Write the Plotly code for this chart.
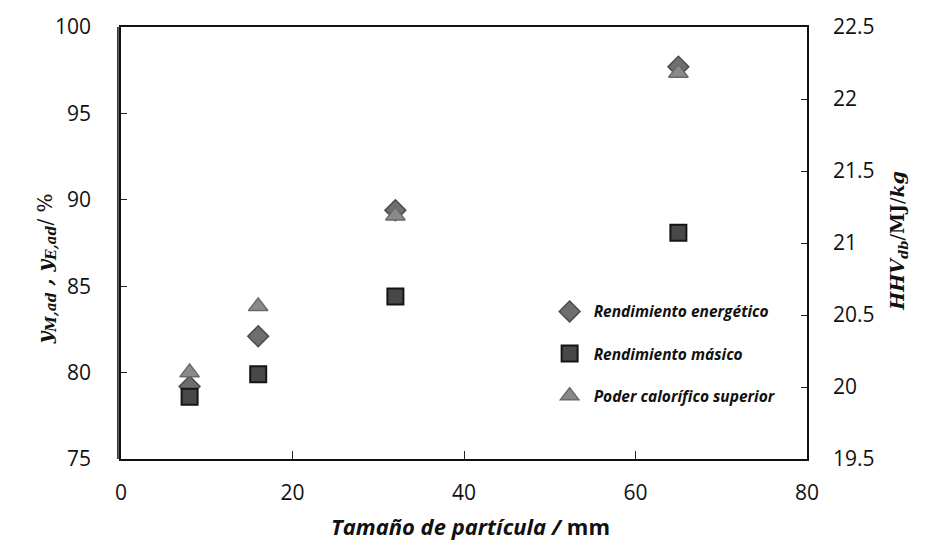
import plotly.graph_objects as go

# Particle size (mm)
particle_size = [8, 16, 32, 65]

# Energy yield and mass yield (%), left axis
energy_yield = [79.2, 82.1, 89.4, 97.7]
mass_yield = [78.6, 79.9, 84.4, 88.1]

# Higher heating value (MJ/kg), right axis
hhv = [20.10, 20.56, 21.19, 22.18]

x_ticks = [0, 20, 40, 60, 80]
left_ticks = [75, 80, 85, 90, 95, 100]
right_ticks = [19.5, 20, 20.5, 21, 21.5, 22, 22.5]

tick_font = dict(family="Open Sans", size=21, color="#111111")
legend_font = dict(family="Open Sans", size=15.5, color="#111111", style="italic", weight="bold")

fig = go.Figure()

fig.add_trace(go.Scatter(
    x=particle_size, y=energy_yield, mode="markers",
    name="Rendimiento energético", legendgroup="a",
    marker=dict(symbol="diamond", size=16, color="#6e6e6e",
                line=dict(color="#4a4a4a", width=1.5)),
))
fig.add_trace(go.Scatter(
    x=particle_size, y=mass_yield, mode="markers",
    name="Rendimiento másico", legendgroup="b",
    marker=dict(symbol="square", size=16, color="#484848",
                line=dict(color="#151515", width=2)),
))
fig.add_trace(go.Scatter(
    x=particle_size, y=hhv, mode="markers", yaxis="y2",
    name="Poder calorífico superior", legendgroup="c",
    marker=dict(symbol="triangle-up", size=17, color="#8a8a8a",
                line=dict(color="#6a6a6a", width=1.5)),
))

fig.update_layout(
    width=927, height=546,
    margin=dict(l=121, r=120, t=25, b=87),
    paper_bgcolor="white", plot_bgcolor="white",
    showlegend=True,
    legend=dict(
        x=0.619, y=0.380, xanchor="left", yanchor="top",
        font=legend_font, bgcolor="rgba(0,0,0,0)",
        traceorder="grouped", tracegroupgap=19,
        itemwidth=38,
    ),
    xaxis=dict(
        range=[0, 80], tickvals=x_ticks, ticks="inside", ticklen=8,
        tickcolor="#222", showgrid=False, zeroline=False,
        showline=True, linecolor="#111", linewidth=1.5, mirror=True,
        tickfont=tick_font, ticklabelstandoff=14,
    ),
    yaxis=dict(
        range=[75, 100], tickvals=left_ticks, ticks="inside", ticklen=6,
        tickcolor="#222", showgrid=False, zeroline=False,
        showline=True, linecolor="#111", linewidth=1.5,
        tickfont=tick_font, ticklabelstandoff=24,
    ),
    yaxis2=dict(
        range=[19.5, 22.5], tickvals=right_ticks,
        ticktext=[f"{v:g}" for v in right_ticks],
        overlaying="y", side="right", ticks="inside", ticklen=6,
        tickcolor="#222", showgrid=False, zeroline=False,
        showline=True, linecolor="#111", linewidth=1.5,
        tickfont=tick_font, ticklabelstandoff=20,
    ),
)

# Second stroke of the double left border
fig.add_shape(type="line", xref="paper", yref="paper",
              x0=-0.0045, x1=-0.0045, y0=0, y1=1,
              line=dict(color="#111", width=1.5))

# Axis titles
fig.add_annotation(
    text="<b><i>y</i><sub><i>M,ad</i></sub><i> , y</i><sub><i>E,ad</i></sub></b>/ %",
    xref="paper", yref="paper", x=-0.132, y=0.44,
    showarrow=False, textangle=-90,
    font=dict(family="DejaVu Serif", size=20, color="#111"),
)
fig.add_annotation(
    text="<b><i>HHV</i><sub><i>db</i></sub></b>/<b>MJ</b>/<b><i>kg</i></b>",
    xref="paper", yref="paper", x=1.155, y=0.505,
    showarrow=False, textangle=-90,
    font=dict(family="DejaVu Serif", size=19, color="#111"),
)
fig.add_annotation(
    text="<b><i>Tamaño de partícula /</i> mm</b>",
    xref="paper", yref="paper", x=0.51, y=-0.155,
    showarrow=False, yanchor="middle",
    font=dict(family="Open Sans", size=22, color="#111"),
)

fig.write_html("out.html")
